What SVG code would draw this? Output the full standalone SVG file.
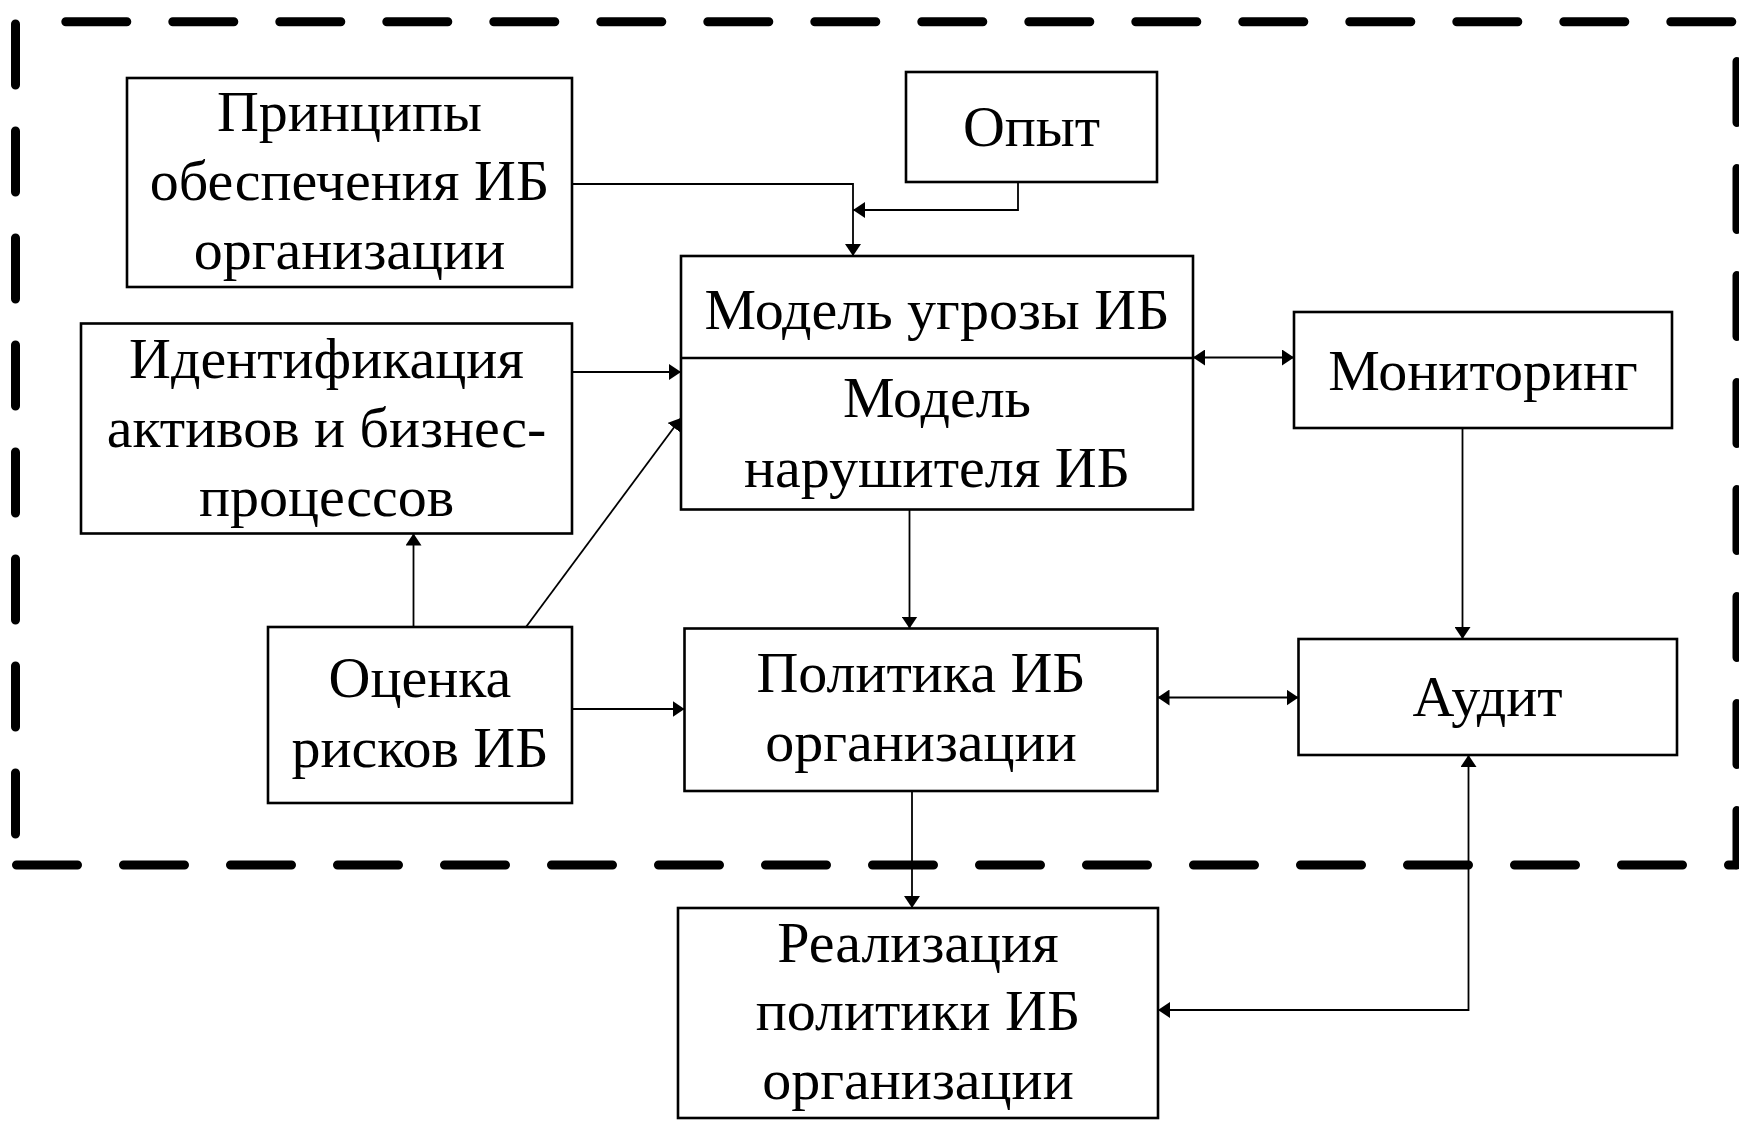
<svg xmlns="http://www.w3.org/2000/svg" width="1739" height="1124" viewBox="0 0 1739 1124">
<style>
.box{fill:#fff;stroke:#000;stroke-width:2.6}
.t{font-family:"Liberation Serif","Times New Roman",serif;font-size:58px;fill:#000;text-anchor:middle}
.c{fill:none;stroke:#000;stroke-width:1.8}
.dash{fill:none;stroke:#000;stroke-width:9;stroke-linecap:round;stroke-dasharray:61 46}
</style>
<defs>
<marker id="ah" markerUnits="userSpaceOnUse" viewBox="0 0 12 16" refX="12" refY="8" markerWidth="12" markerHeight="16" orient="auto-start-reverse">
<path d="M0,0 L12,8 L0,16 Z" fill="#000"/>
</marker>
</defs>
<rect width="1739" height="1124" fill="#fff"/>
<g id="boundary">
<line class="dash" x1="65.8" y1="21.7" x2="1733" y2="21.7"/>
<line class="dash" x1="15.5" y1="24" x2="15.5" y2="850"/>
<line class="dash" x1="1737" y1="61.5" x2="1737" y2="865"/>
<line class="dash" x1="16.5" y1="865" x2="1735" y2="865"/>
</g>
<g id="connectors">
<path class="c" d="M572,184 H853 V256" marker-end="url(#ah)"/>
<path class="c" d="M1018,182 V210 H853" marker-end="url(#ah)"/>
<path class="c" d="M572,372 H681" marker-end="url(#ah)"/>
<path class="c" d="M526,627 L681,418" marker-end="url(#ah)"/>
<path class="c" d="M413.5,627 V533.5" marker-end="url(#ah)"/>
<path class="c" d="M572,709 H684.5" marker-end="url(#ah)"/>
<path class="c" d="M909.5,509.5 V628.5" marker-end="url(#ah)"/>
<path class="c" d="M1193,357.5 H1294" marker-start="url(#ah)" marker-end="url(#ah)"/>
<path class="c" d="M1462.5,428 V639" marker-end="url(#ah)"/>
<path class="c" d="M1157.5,697.5 H1298.5" marker-start="url(#ah)" marker-end="url(#ah)"/>
<path class="c" d="M912,791 V908" marker-end="url(#ah)"/>
<path class="c" d="M1158,1010 H1468.5 V755" marker-start="url(#ah)" marker-end="url(#ah)"/>
</g>
<g id="principles">
<rect class="box" x="127" y="78" width="445" height="209"/>
<text class="t" x="349.5" y="131">Принципы</text>
<text class="t" x="349.5" y="200">обеспечения ИБ</text>
<text class="t" x="349.5" y="269">организации</text>
</g>
<g id="experience">
<rect class="box" x="906" y="72" width="251" height="110"/>
<text class="t" x="1031.5" y="146">Опыт</text>
</g>
<g id="model">
<rect class="box" x="681" y="256" width="512" height="253.5"/>
<line x1="681" y1="358" x2="1193" y2="358" stroke="#000" stroke-width="2.6"/>
<text class="t" x="937" y="329">Модель угрозы ИБ</text>
<text class="t" x="937" y="417">Модель</text>
<text class="t" x="937" y="487">нарушителя ИБ</text>
</g>
<g id="identification">
<rect class="box" x="81" y="323.5" width="491" height="210"/>
<text class="t" x="326.5" y="378">Идентификация</text>
<text class="t" x="326.5" y="447">активов и бизнес-</text>
<text class="t" x="326.5" y="516">процессов</text>
</g>
<g id="monitoring">
<rect class="box" x="1294" y="312" width="378" height="116"/>
<text class="t" x="1483" y="390">Мониторинг</text>
</g>
<g id="risk">
<rect class="box" x="268" y="627" width="304" height="176"/>
<text class="t" x="420" y="697">Оценка</text>
<text class="t" x="420" y="767">рисков ИБ</text>
</g>
<g id="policy">
<rect class="box" x="684.5" y="628.5" width="473" height="162.5"/>
<text class="t" x="921" y="692">Политика ИБ</text>
<text class="t" x="921" y="761">организации</text>
</g>
<g id="audit">
<rect class="box" x="1298.5" y="639" width="378.5" height="116"/>
<text class="t" x="1487.5" y="716">Аудит</text>
</g>
<g id="implementation">
<rect class="box" x="678" y="908" width="480" height="210"/>
<text class="t" x="918" y="962">Реализация</text>
<text class="t" x="918" y="1030">политики ИБ</text>
<text class="t" x="918" y="1099">организации</text>
</g>
</svg>
